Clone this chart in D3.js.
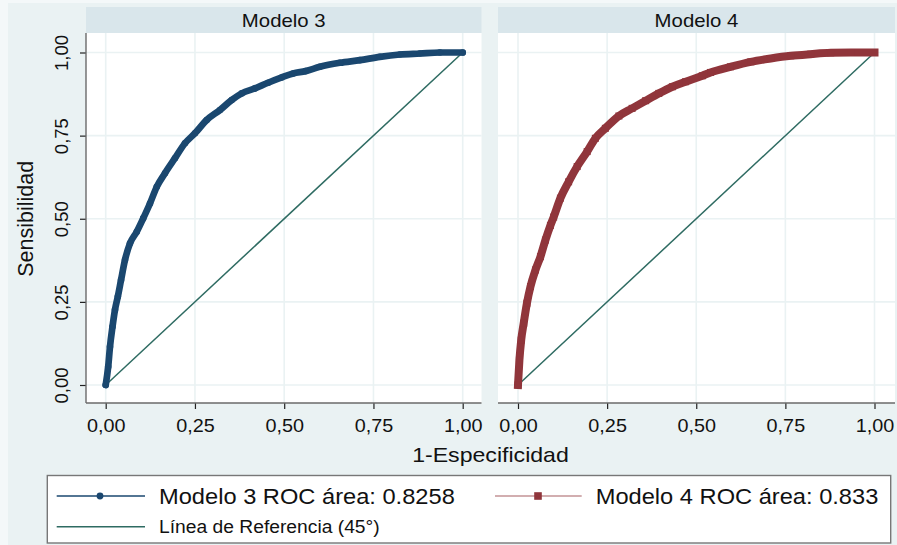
<!DOCTYPE html>
<html>
<head>
<meta charset="utf-8">
<script src="https://cdn.jsdelivr.net/npm/d3@7"></script>
<style>
  body { margin: 0; background: #ffffff; }
  svg { display: block; }
  text { font-family: "Liberation Sans", Arial, sans-serif; fill: #111; }
</style>
</head>
<body>
<svg id="chart" width="897" height="545"></svg>
<script>
// Axis ticks shared by both panels
const tickValues = [0, 0.25, 0.5, 0.75, 1];
const tickLabels = ["0,00", "0,25", "0,50", "0,75", "1,00"];
const panelTitles = ["Modelo 3", "Modelo 4"];

// ROC curve, Modelo 3: 1-especificidad / sensibilidad
const modelo3Fpr = [0, 0.007, 0.012, 0.019, 0.026, 0.034, 0.043, 0.054, 0.068, 0.087, 0.105, 0.124, 0.143, 0.166, 0.194, 0.222, 0.250, 0.283, 0.320, 0.353, 0.381, 0.418, 0.455, 0.493, 0.525, 0.560, 0.600, 0.656, 0.712, 0.768, 0.824, 0.880, 0.936, 1.0];
const modelo3Tpr = [0, 0.055, 0.115, 0.175, 0.226, 0.266, 0.316, 0.376, 0.426, 0.461, 0.501, 0.546, 0.596, 0.637, 0.682, 0.727, 0.757, 0.797, 0.827, 0.857, 0.877, 0.892, 0.909, 0.925, 0.937, 0.944, 0.957, 0.969, 0.977, 0.987, 0.994, 0.997, 1.0, 1.0];

// ROC curve, Modelo 4
const modelo4Fpr = [0, 0.004, 0.009, 0.016, 0.025, 0.035, 0.049, 0.063, 0.077, 0.091, 0.100, 0.119, 0.142, 0.166, 0.194, 0.217, 0.245, 0.283, 0.320, 0.358, 0.395, 0.433, 0.470, 0.517, 0.540, 0.596, 0.653, 0.709, 0.765, 0.821, 0.877, 0.934, 1.0];
const modelo4Tpr = [0, 0.075, 0.135, 0.186, 0.246, 0.296, 0.346, 0.386, 0.436, 0.480, 0.505, 0.562, 0.611, 0.657, 0.702, 0.742, 0.772, 0.809, 0.832, 0.855, 0.877, 0.897, 0.912, 0.930, 0.940, 0.957, 0.972, 0.982, 0.990, 0.995, 0.999, 1.0, 1.0];

// 45-degree reference line
const referenceLine = [0, 1];

const legendLabels = ["Modelo 3 ROC área: 0.8258", "Modelo 4 ROC área: 0.833", "Línea de Referencia (45°)"];
const yTitle = "Sensibilidad";
const xTitle = "1-Especificidad";

const colors = { m3: "#1a476f", m4: "#90353b", ref: "#2e6b62", bg: "#eaf2f3", strip: "#d9e6eb", grid: "#eaf2f3", axis: "#6a6a6a" };

const svg = d3.select("#chart");
const STRETCH = 1.1; // text is drawn slightly wide

function widen(sel) {
  sel.each(function () {
    const w = this.getComputedTextLength();
    d3.select(this).attr("textLength", w * STRETCH).attr("lengthAdjust", "spacingAndGlyphs");
  });
}

// background
svg.append("rect").attr("x", 0).attr("y", 0).attr("width", 897).attr("height", 545).attr("fill", "#f4f8f9");
svg.append("rect").attr("x", 8).attr("y", 3).attr("width", 889).attr("height", 542).attr("fill", colors.bg);

const y = d3.scaleLinear().domain([0, 1]).range([385, 52.5]);

const panels = [
  { title: panelTitles[0], left: 86, right: 481.5, x: d3.scaleLinear().domain([0, 1]).range([105.7, 462.7]), fpr: modelo3Fpr, tpr: modelo3Tpr, color: colors.m3, width: 6.7, marker: "circle", yAxis: true },
  { title: panelTitles[1], left: 498, right: 895, x: d3.scaleLinear().domain([0, 1]).range([518, 874.5]), fpr: modelo4Fpr, tpr: modelo4Tpr, color: colors.m4, width: 8, marker: "square", yAxis: false }
];

const stripTop = 7, stripBottom = 33, plotBottom = 403;

panels.forEach(p => {
  const g = svg.append("g");
  // title strip
  g.append("rect").attr("x", p.left).attr("y", stripTop).attr("width", p.right - p.left).attr("height", stripBottom - stripTop).attr("fill", colors.strip);
  g.append("text").attr("x", (p.left + p.right) / 2).attr("y", 26.5).attr("text-anchor", "middle")
    .style("font-size", "18.5px").text(p.title).call(widen);
  // plot area
  g.append("rect").attr("x", p.left).attr("y", stripBottom).attr("width", p.right - p.left).attr("height", plotBottom - stripBottom).attr("fill", "#ffffff");
  // grid
  g.selectAll(".vg").data(tickValues).join("line")
    .attr("x1", d => p.x(d)).attr("x2", d => p.x(d)).attr("y1", stripBottom).attr("y2", plotBottom)
    .attr("stroke", colors.grid).attr("stroke-width", 1.6);
  g.selectAll(".hg").data(tickValues).join("line")
    .attr("y1", d => y(d)).attr("y2", d => y(d)).attr("x1", p.left).attr("x2", p.right)
    .attr("stroke", colors.grid).attr("stroke-width", 1.6);

  // reference line
  const refLine = d3.line().x(d => p.x(d)).y(d => y(d));
  g.append("path").datum(referenceLine).attr("d", refLine).attr("fill", "none")
    .attr("stroke", colors.ref).attr("stroke-width", 1.5);

  // ROC curve
  const pts = p.fpr.map((f, i) => [f, p.tpr[i]]);
  const line = d3.line().x(d => p.x(d[0])).y(d => y(d[1])).curve(d3.curveMonotoneX);
  g.append("path").datum(pts).attr("d", line).attr("fill", "none")
    .attr("stroke", p.color).attr("stroke-width", p.width)
    .attr("stroke-linejoin", "round").attr("stroke-linecap", p.marker === "circle" ? "round" : "square");
  if (p.marker === "circle") {
    g.selectAll(".pt").data(pts).join("circle")
      .attr("cx", d => p.x(d[0])).attr("cy", d => y(d[1])).attr("r", 3.3).attr("fill", p.color);
  } else {
    g.selectAll(".pt").data(pts).join("rect")
      .attr("x", d => p.x(d[0]) - 3.5).attr("y", d => y(d[1]) - 3.5).attr("width", 7).attr("height", 7).attr("fill", p.color);
  }

  // x axis
  const xAxis = d3.axisBottom(p.x).tickValues(tickValues).tickFormat((d, i) => tickLabels[i])
    .tickSize(6).tickSizeOuter(0).tickPadding(10);
  const gx = g.append("g").attr("transform", `translate(0,${plotBottom})`).call(xAxis);
  gx.select(".domain").remove();
  gx.selectAll(".tick line").attr("stroke", "#222").attr("stroke-width", 1.2);
  gx.selectAll(".tick text").style("font-size", "18px").attr("fill", "#111").call(widen);
  g.append("line").attr("x1", p.left).attr("x2", p.right).attr("y1", plotBottom).attr("y2", plotBottom)
    .attr("stroke", colors.axis).attr("stroke-width", 1.4);

  // y axis (left panel only)
  if (p.yAxis) {
    const yAxis = d3.axisLeft(y).tickValues(tickValues).tickFormat((d, i) => tickLabels[i])
      .tickSize(6).tickSizeOuter(0);
    const gy = g.append("g").attr("transform", `translate(${p.left},0)`).call(yAxis);
    gy.select(".domain").remove();
    gy.selectAll(".tick line").attr("stroke", "#222").attr("stroke-width", 1.2);
    gy.selectAll(".tick text").style("font-size", "18.5px").attr("fill", "#111")
      .attr("transform", "rotate(-90)").attr("x", 0).attr("y", -18.5).attr("dy", 0)
      .attr("text-anchor", "middle");
    g.append("line").attr("x1", p.left).attr("x2", p.left).attr("y1", stripBottom).attr("y2", plotBottom)
      .attr("stroke", colors.axis).attr("stroke-width", 1.4);
  }
});

// axis titles
svg.append("text").attr("transform", `translate(33,${y(0.5)}) rotate(-90)`).attr("text-anchor", "middle")
  .style("font-size", "21.5px").text(yTitle);
svg.append("text").attr("x", (86 + 895) / 2).attr("y", 462).attr("text-anchor", "middle")
  .style("font-size", "21px").text(xTitle).call(widen);

// legend
const lg = svg.append("g");
lg.append("rect").attr("x", 47.3).attr("y", 475.5).attr("width", 843.4).attr("height", 67.5)
  .attr("fill", "#ffffff").attr("stroke", "#777").attr("stroke-width", 1.4);

// Modelo 3
lg.append("line").attr("x1", 56.7).attr("x2", 145).attr("y1", 496).attr("y2", 496).attr("stroke", colors.m3).attr("stroke-width", 1.5);
lg.append("circle").attr("cx", 100).attr("cy", 496).attr("r", 3.4).attr("fill", colors.m3);
lg.append("text").attr("x", 159).attr("y", 504.3).style("font-size", "21.5px").text(legendLabels[0]).call(widen);
// Modelo 4
lg.append("line").attr("x1", 495).attr("x2", 581.7).attr("y1", 496).attr("y2", 496).attr("stroke", colors.m4).attr("stroke-opacity", 0.8).attr("stroke-width", 1.2);
lg.append("rect").attr("x", 538 - 3.8).attr("y", 496 - 3.8).attr("width", 7.6).attr("height", 7.6).attr("fill", colors.m4);
lg.append("text").attr("x", 595.7).attr("y", 504.3).style("font-size", "21.5px").text(legendLabels[1]).call(widen);
// reference line
lg.append("line").attr("x1", 56.7).attr("x2", 145).attr("y1", 526.7).attr("y2", 526.7).attr("stroke", colors.ref).attr("stroke-width", 1.4);
lg.append("text").attr("x", 159).attr("y", 533.3).style("font-size", "17.5px").text(legendLabels[2]).call(widen);
</script>
</body>
</html>
